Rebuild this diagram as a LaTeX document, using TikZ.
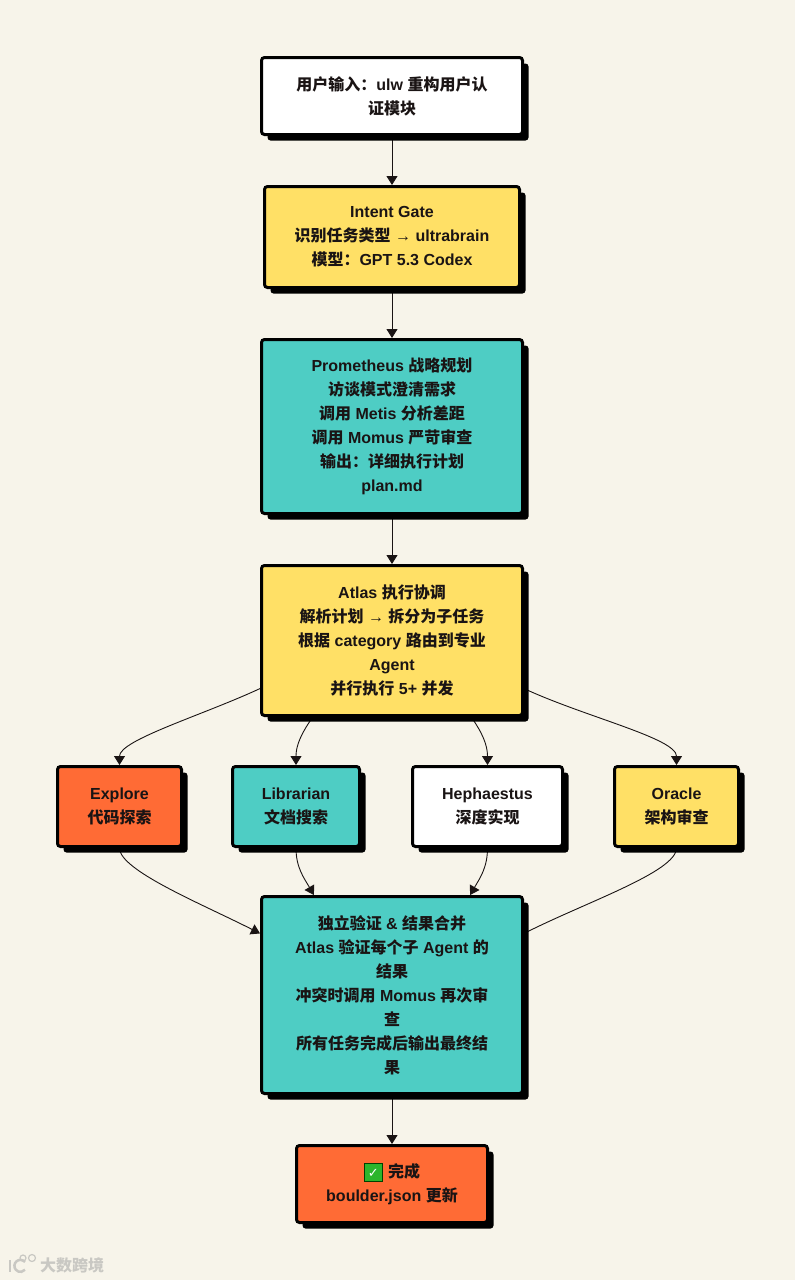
\documentclass[tikz,border=0pt]{standalone}
\usepackage{fontspec}
\setmainfont{Liberation Sans}
\newfontfamily\zhfont{Noto Sans CJK SC}
\newfontfamily\checkfont{DejaVu Sans}
\newcommand{\zh}[1]{{\zhfont #1}}
\usetikzlibrary{arrows.meta,shadows,backgrounds}
\definecolor{paper}{HTML}{F7F4EA}
\definecolor{cardyellow}{HTML}{FFE066}
\definecolor{cardteal}{HTML}{4ECDC4}
\definecolor{cardorange}{HTML}{FF6B35}
\definecolor{inkblack}{HTML}{1A1414}
\definecolor{checkgreen}{HTML}{2CB52C}
\definecolor{markgray}{HTML}{C9C8C3}
\tikzset{
  card/.style={draw=black, line width=3pt, rounded corners=3pt, align=center, text=inkblack,
    font=\bfseries\fontsize{16}{24}\selectfont,
    drop shadow={shadow xshift=6pt, shadow yshift=-6pt, opacity=1, fill=black}},
  wire/.style={draw=inkblack, line width=0.9pt},
  link/.style={wire, -{Triangle[width=11pt,length=9pt]}},
}
\begin{document}
\begin{tikzpicture}[x=1pt,y=-1pt]
\useasboundingbox (0,0) rectangle (795,1280);
% main column
\node[card, fill=white, minimum width=261pt, minimum height=77pt] (input) at (392,96) {\zh{用户输入：}ulw \zh{重构用户认}\\\zh{证模块}};
\node[card, fill=cardyellow, minimum width=255pt, minimum height=101pt] (intent) at (392,237) {Intent Gate\\\zh{识别任务类型} → ultrabrain\\\zh{模型：}GPT 5.3 Codex};
\node[card, fill=cardteal, minimum width=261pt, minimum height=174pt] (prometheus) at (392,426.5) {Prometheus \zh{战略规划}\\\zh{访谈模式澄清需求}\\\zh{调用} Metis \zh{分析差距}\\\zh{调用} Momus \zh{严苛审查}\\\zh{输出：详细执行计划}\\plan.md};
\node[card, fill=cardyellow, minimum width=261pt, minimum height=150pt] (atlas) at (392,640.5) {Atlas \zh{执行协调}\\\zh{解析计划} → \zh{拆分为子任务}\\\zh{根据} category \zh{路由到专业}\\Agent\\\zh{并行执行} 5+ \zh{并发}};
% agents
\node[card, fill=cardorange, minimum width=124pt, minimum height=80pt] (explore) at (119.5,806.5) {Explore\\\zh{代码探索}};
\node[card, fill=cardteal, minimum width=127pt, minimum height=80pt] (librarian) at (296,806.5) {Librarian\\\zh{文档搜索}};
\node[card, fill=white, minimum width=150pt, minimum height=80pt] (hephaestus) at (487.5,806.5) {Hephaestus\\\zh{深度实现}};
\node[card, fill=cardyellow, minimum width=124pt, minimum height=80pt] (oracle) at (676.5,806.5) {Oracle\\\zh{架构审查}};
% merge and finish
\node[card, fill=cardteal, minimum width=261pt, minimum height=197pt] (merge) at (392,995) {\zh{独立验证} \& \zh{结果合并}\\Atlas \zh{验证每个子} Agent \zh{的}\\\zh{结果}\\\zh{冲突时调用} Momus \zh{再次审}\\\zh{查}\\\zh{所有任务完成后输出最终结}\\\zh{果}};
\node[card, fill=cardorange, minimum width=191pt, minimum height=77pt] (done) at (392,1184) {\fboxsep=0pt\fboxrule=1pt\fcolorbox{black!75!green}{checkgreen}{\makebox[17pt]{\rule[-3pt]{0pt}{17pt}\checkfont\fontsize{13}{13}\selectfont\color{white}✓}}\hspace{1pt} \zh{完成}\\boulder.json \zh{更新}};
% watermark
\node[text=markgray, inner sep=0pt, font=\bfseries\fontsize{16}{16}\selectfont] (mark) at (72,1265.5) {\zh{大数跨境}};
\draw[markgray, line width=2.5pt] (25,1262) arc (40:320:6pt);
\draw[markgray, line width=1.2pt] (23,1258) circle (3pt) (32,1258) circle (3.5pt);
\draw[markgray, line width=2.5pt] (10,1260) -- (10,1272);
\begin{scope}[on background layer]
\fill[paper] (0,0) rectangle (795,1280);
\draw[link] (input) -- (intent);
\draw[link] (intent) -- (prometheus);
\draw[link] (prometheus) -- (atlas);
\draw[link] (merge) -- (done);
\draw[link] (atlas.200) to[out=-155,in=90,in looseness=0.4] (explore.north);
\draw[link] (atlas.224) to[out=-125,in=90] (librarian.north);
\draw[link] (atlas.-44) to[out=-55,in=90] (hephaestus.north);
\draw[link] (atlas.-20) to[out=-25,in=90,in looseness=0.4] (oracle.north);
\draw[link] (explore.south) to[out=-90,in=153,out looseness=0.35] (merge.155);
\draw[link] (librarian.south) to[out=-90,in=120] (merge.128);
\draw[link] (hephaestus.south) to[out=-90,in=60] (merge.52);
\draw[wire] (oracle.south) to[out=-90,in=27,out looseness=0.35] (merge.25);
\end{scope}
\end{tikzpicture}
\end{document}
